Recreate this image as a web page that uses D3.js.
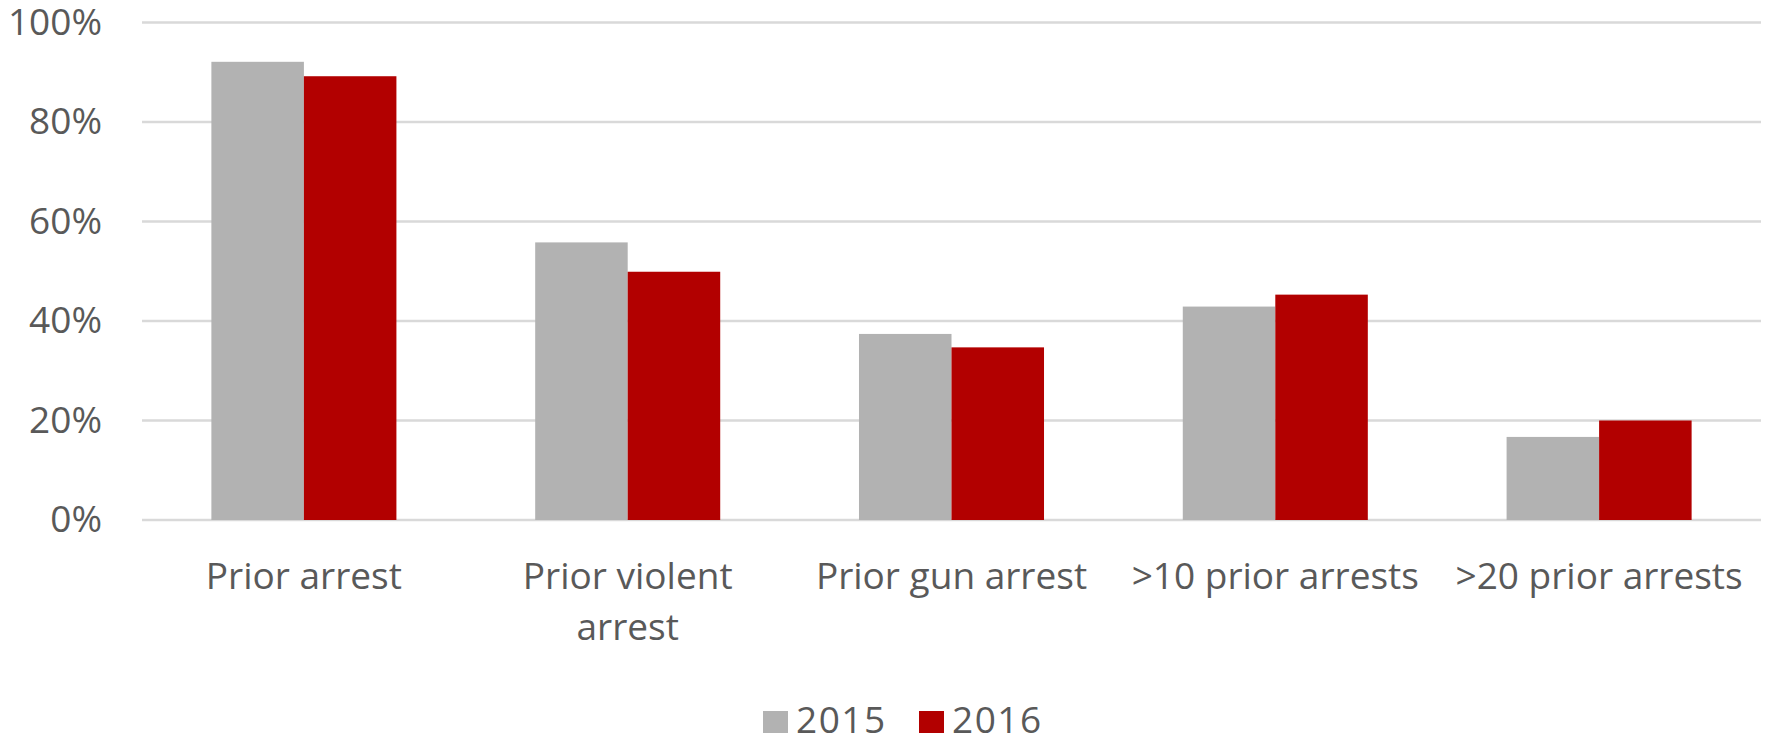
<!DOCTYPE html>
<html>
<head>
<meta charset="utf-8">
<script src="https://cdn.jsdelivr.net/npm/d3@7"></script>
<style>
  body { margin: 0; background: #fff; }
  text { font-family: "Open Sans", sans-serif; fill: #595959; }
</style>
</head>
<body>
<div id="content"></div>
<script>
// chart data
var categories = ["Prior arrest", "Prior violent arrest", "Prior gun arrest", ">10 prior arrests", ">20 prior arrests"];
var seriesNames = ["2015", "2016"];
var values2015 = [92.1, 55.8, 37.4, 42.9, 16.7];
var values2016 = [89.2, 49.9, 34.7, 45.3, 20.0];
var yTicks = [0, 20, 40, 60, 80, 100];
var colors = ["#b2b2b2", "#b20000"];

var width = 1767, height = 744;
var margin = {top: 22.5, right: 6, bottom: 224, left: 142};
var fontSize = 37;

var svg = d3.select("#content").append("svg")
  .attr("width", width)
  .attr("height", height);

var g = svg.append("g")
  .attr("transform", "translate(" + margin.left + "," + margin.top + ")");

var innerW = width - margin.left - margin.right;
var innerH = height - margin.top - margin.bottom;

var x_scale = d3.scaleBand().domain(categories).range([0, innerW]).paddingInner(0).paddingOuter(0);
// gap width 150% like the excel default
var x_inner = d3.scaleBand().domain(seriesNames)
  .range([x_scale.bandwidth() * 0.75 / 3.5, x_scale.bandwidth() - x_scale.bandwidth() * 0.75 / 3.5]);
var y_scale = d3.scaleLinear().domain([0, 100]).range([innerH, 0]);

// gridlines
g.append("g").selectAll("line")
  .data(yTicks)
  .enter().append("line")
  .attr("x1", 0).attr("x2", innerW)
  .attr("y1", function(d) { return y_scale(d); })
  .attr("y2", function(d) { return y_scale(d); })
  .attr("stroke", "#d9d9d9")
  .attr("stroke-width", 2.5);

// y axis labels
var yAxis = g.append("g")
  .call(d3.axisLeft(y_scale).tickValues(yTicks).tickFormat(function(d) { return d + "%"; }).tickSize(0).tickPadding(40));
yAxis.select(".domain").remove();
yAxis.selectAll("text")
  .style("font-size", fontSize + "px")
  .style("font-family", "'Open Sans', sans-serif")
  .attr("fill", "#595959");

// bars
var rows = categories.map(function(c, i) {
  return {cat: c, vals: [values2015[i], values2016[i]]};
});

var groups = g.selectAll(".grp")
  .data(rows)
  .enter().append("g")
  .attr("class", "grp")
  .attr("transform", function(d) { return "translate(" + x_scale(d.cat) + ",0)"; });

groups.selectAll("rect")
  .data(function(d) { return d.vals.map(function(v, j) { return {name: seriesNames[j], v: v, j: j}; }); })
  .enter().append("rect")
  .attr("x", function(d) { return x_inner(d.name); })
  .attr("width", x_inner.bandwidth())
  .attr("y", function(d) { return y_scale(d.v); })
  .attr("height", function(d) { return innerH - y_scale(d.v); })
  .attr("fill", function(d) { return colors[d.j]; });

// category labels, wrapped a bit inside the band width
var wrapW = x_scale.bandwidth() * 0.92;
var labels = g.append("g").selectAll("text")
  .data(categories)
  .enter().append("text")
  .attr("text-anchor", "middle")
  .style("font-size", fontSize + "px")
  .attr("x", function(d) { return x_scale(d) + x_scale.bandwidth() / 2; })
  .attr("y", innerH + 69);

labels.each(function(d) {
  var el = d3.select(this);
  var words = d.split(" ");
  var line = [];
  var cx = el.attr("x");
  var tspan = el.append("tspan").attr("x", cx).attr("dy", 0);
  words.forEach(function(w) {
    line.push(w);
    tspan.text(line.join(" "));
    if (tspan.node().getComputedTextLength() > wrapW && line.length > 1) {
      line.pop();
      tspan.text(line.join(" "));
      line = [w];
      tspan = el.append("tspan").attr("x", cx).attr("dy", 51).text(w);
    }
  });
});

// legend
var legendX = [763, 919];
var legend = svg.append("g").selectAll("g")
  .data(seriesNames)
  .enter().append("g")
  .attr("transform", function(d, i) { return "translate(" + legendX[i] + ",711)"; });

legend.append("rect")
  .attr("width", 25).attr("height", 22)
  .attr("fill", function(d, i) { return colors[i]; });

legend.append("text")
  .attr("x", 33).attr("y", 22)
  .style("font-size", fontSize + "px")
  .style("letter-spacing", "1.5px")
  .text(function(d) { return d; });
</script>
</body>
</html>
